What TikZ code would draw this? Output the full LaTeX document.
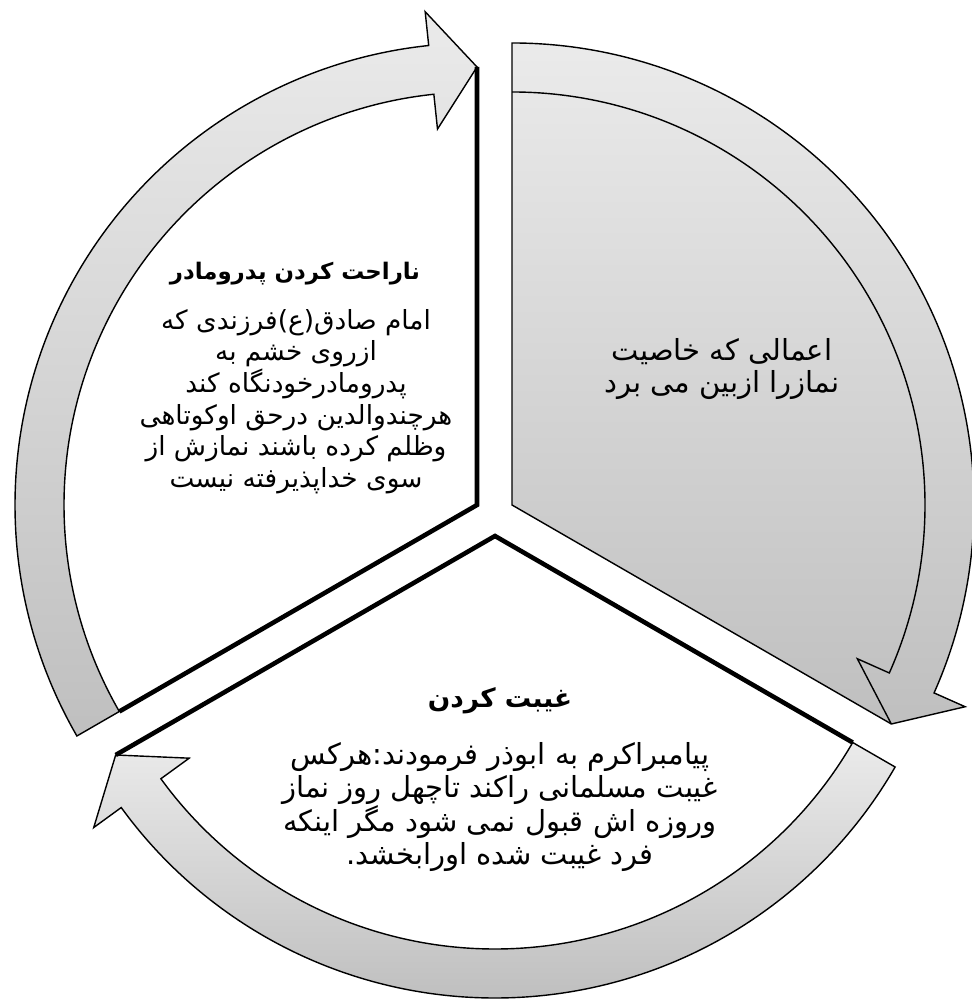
\documentclass[tikz,border=0pt]{standalone}
\usepackage{fontspec}
\usepackage{tikz}
\TeXXeTstate=1
\newfontfamily\farsi[Script=Arabic]{DejaVu Sans}
\newcommand{\rtlline}[1]{\beginR #1\endR}
\tikzstyle{band} = [draw=black, line width=0.8pt, top color=gray!16, bottom color=gray!50]
\tikzstyle{thinedge} = [draw=black, line width=0.8pt]
\tikzstyle{thickedge} = [draw=black, line width=2.6pt, line join=miter]
\tikzstyle{titletext} = [align=center, font=\farsi\bfseries\fontsize{13}{16}\selectfont]
\tikzstyle{bodytext} = [align=center, font=\farsi\fontsize{15}{18}\selectfont]
\tikzstyle{bigtext} = [align=center, font=\farsi\fontsize{16.5}{18.7}\selectfont]
\def\rin{413}
\def\rout{462}
\def\rmid{438}

\begin{document}
\begin{tikzpicture}[x=0.02cm, y=0.02cm]
\useasboundingbox (0,0) rectangle (971,999);
% wedge corners, each wedge pushed out from (495,484)
\coordinate (vgray) at (512,494);
\coordinate (vleft) at (477,494);
\coordinate (vbottom) at (495,463);
% Top right wedge, filled grey, arrow ends at -30
\begin{scope}[shift={(vgray)}]
\path[band] (90:\rout) arc[start angle=90, end angle=-24, radius=\rout]
  -- (-24:496) -- (-30:\rmid) -- (0,0) -- cycle;
\draw[thinedge] (90:\rin) arc[start angle=90, end angle=-24, radius=\rin]
  -- (-24:378) -- (-30:\rmid);
\end{scope}
% Left wedge, white, arrow ends at 90
\begin{scope}[shift={(vleft)}]
\path[band] (210:\rin) -- (210:\rout) arc[start angle=210, end angle=96, radius=\rout]
  -- (96:496) -- (90:\rmid) -- (96:378) -- (96:\rin)
  arc[start angle=96, end angle=210, radius=\rin] -- cycle;
\draw[thickedge] (210:\rin) -- (0,0) -- (90:\rmid);
\end{scope}
% Bottom wedge, white, arrow ends at 210
\begin{scope}[shift={(vbottom)}]
\path[band] (330:\rin) -- (330:\rout) arc[start angle=330, end angle=216, radius=\rout]
  -- (216:496) -- (210:\rmid) -- (216:378) -- (216:\rin)
  arc[start angle=216, end angle=330, radius=\rin] -- cycle;
\draw[thickedge] (330:\rin) -- (0,0) -- (210:\rmid);
\end{scope}
% Texts
\node[bigtext] (grayText) at (722,630) {\rtlline{اعمالی که خاصیت}\\ \rtlline{نمازرا ازبین می برد}};
\node[titletext] (leftTitle) at (295,725) {\rtlline{ناراحت کردن پدرومادر}};
\node[bodytext, anchor=north] (leftText) at (296,696) {\rtlline{امام صادق(ع)فرزندی که}\\
  \rtlline{ازروی خشم به}\\
  \rtlline{پدرومادرخودنگاه کند}\\
  \rtlline{هرچندوالدین درحق اوکوتاهی}\\
  \rtlline{وظلم کرده باشند نمازش از}\\
  \rtlline{سوی خداپذیرفته نیست}};
\node[titletext, font=\farsi\bfseries\fontsize{15}{18}\selectfont] (bottomTitle) at (500,298) {\rtlline{غیبت کردن}};
\node[bigtext, anchor=north] (bottomText) at (500,263) {\rtlline{پیامبراکرم به ابوذر فرمودند:هرکس}\\
  \rtlline{غیبت مسلمانی راکند تاچهل روز نماز}\\
  \rtlline{وروزه اش قبول نمی شود مگر اینکه}\\
  \rtlline{فرد غیبت شده اورابخشد.}};
\end{tikzpicture}
\end{document}
